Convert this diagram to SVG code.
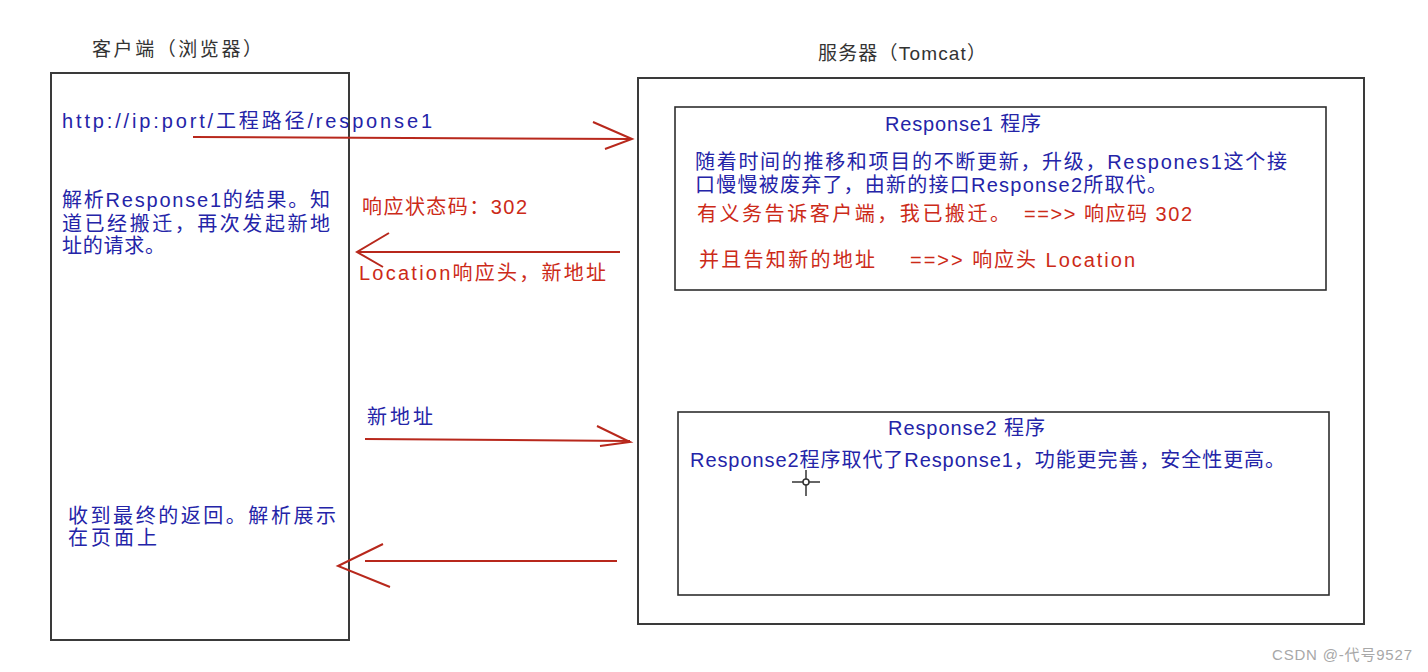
<svg xmlns="http://www.w3.org/2000/svg" width="1428" height="672" viewBox="0 0 1428 672">
<style>
  .box{fill:#fff;stroke:#3a3a3a;stroke-width:2}
  .inner{fill:#fff;stroke:#2e2e2e;stroke-width:1.6}
  .t{font-family:"Liberation Sans","Noto Sans CJK SC",sans-serif;font-size:20px}
  .title{fill:#333;font-size:19px}
  .blue{fill:#2424a8}
  .red{fill:#cc2a18}
  .arr{stroke:#b8281c;stroke-width:2;fill:none}
  .wm{font-family:"Liberation Sans","Noto Sans CJK SC",sans-serif;font-size:15px;fill:#a8a8a8}
</style>
<rect width="1428" height="672" fill="#fff"/>

<g id="client">
  <text class="t title" x="92" y="56" textLength="170" lengthAdjust="spacing">客户端（浏览器）</text>
  <rect class="box" x="51" y="73" width="298" height="567"/>
  <text class="t blue" x="62" y="128" textLength="370" lengthAdjust="spacing">http://ip:port/工程路径/response1</text>
  <text class="t blue" x="62" y="207" textLength="268" lengthAdjust="spacing">解析Response1的结果。知</text>
  <text class="t blue" x="62" y="231" textLength="268" lengthAdjust="spacing">道已经搬迁，再次发起新地</text>
  <text class="t blue" x="62" y="253" textLength="103" lengthAdjust="spacing">址的请求。</text>
  <text class="t blue" x="68" y="523" textLength="268" lengthAdjust="spacing">收到最终的返回。解析展示</text>
  <text class="t blue" x="68" y="545" textLength="89" lengthAdjust="spacing">在页面上</text>
</g>

<g id="server">
  <text class="t title" x="818" y="60" textLength="168" lengthAdjust="spacing">服务器（Tomcat）</text>
  <rect class="box" x="638" y="78" width="726" height="546"/>
</g>

<g id="response1">
  <rect class="inner" x="675" y="107" width="651" height="183"/>
  <text class="t blue" x="885" y="131" textLength="156" lengthAdjust="spacing">Response1 程序</text>
  <text class="t blue" x="695" y="169" textLength="592" lengthAdjust="spacing">随着时间的推移和项目的不断更新，升级，Respones1这个接</text>
  <text class="t blue" x="695" y="192" textLength="472" lengthAdjust="spacing">口慢慢被废弃了，由新的接口Response2所取代。</text>
  <text class="t red" x="697" y="221" textLength="313" lengthAdjust="spacing">有义务告诉客户端，我已搬迁。</text>
  <text class="t red" x="1024" y="221" textLength="168" lengthAdjust="spacing">==&gt;&gt; 响应码 302</text>
  <text class="t red" x="699" y="267" textLength="176" lengthAdjust="spacing">并且告知新的地址</text>
  <text class="t red" x="910" y="267" textLength="225" lengthAdjust="spacing">==&gt;&gt; 响应头 Location</text>
</g>

<g id="response2">
  <rect class="inner" x="678" y="412" width="651" height="183"/>
  <text class="t blue" x="888" y="435" textLength="157" lengthAdjust="spacing">Response2 程序</text>
  <text class="t blue" x="690" y="467" textLength="595" lengthAdjust="spacing">Response2程序取代了Response1，功能更完善，安全性更高。</text>
  <g id="cursor" stroke="#333" stroke-width="1.5" fill="none">
    <line x1="792" y1="482" x2="820" y2="482"/>
    <line x1="806" y1="470" x2="806" y2="496"/>
    <circle cx="806" cy="482" r="3" fill="#fff"/>
  </g>
</g>

<g id="connectors">
  <line class="arr" x1="193" y1="137" x2="632" y2="139"/>
  <polyline class="arr" points="593,122 632,139 605,149"/>
  <text class="t red" x="362" y="214" textLength="165" lengthAdjust="spacing">响应状态码：302</text>

  <line class="arr" x1="620" y1="252" x2="357" y2="252"/>
  <polyline class="arr" points="389,233 357,252 383,267"/>
  <text class="t red" x="359" y="280" textLength="247" lengthAdjust="spacing">Location响应头，新地址</text>

  <text class="t blue" x="367" y="424" textLength="66" lengthAdjust="spacing">新地址</text>
  <line class="arr" x1="365" y1="439" x2="630" y2="441"/>
  <polyline class="arr" points="597,426 630,442 600,446"/>

  <line class="arr" x1="617" y1="561" x2="365" y2="561"/>
  <polyline class="arr" points="383,544 338,566 390,587"/>
</g>

<text class="wm" x="1272" y="660" textLength="140" lengthAdjust="spacing">CSDN @-代号9527</text>
</svg>
